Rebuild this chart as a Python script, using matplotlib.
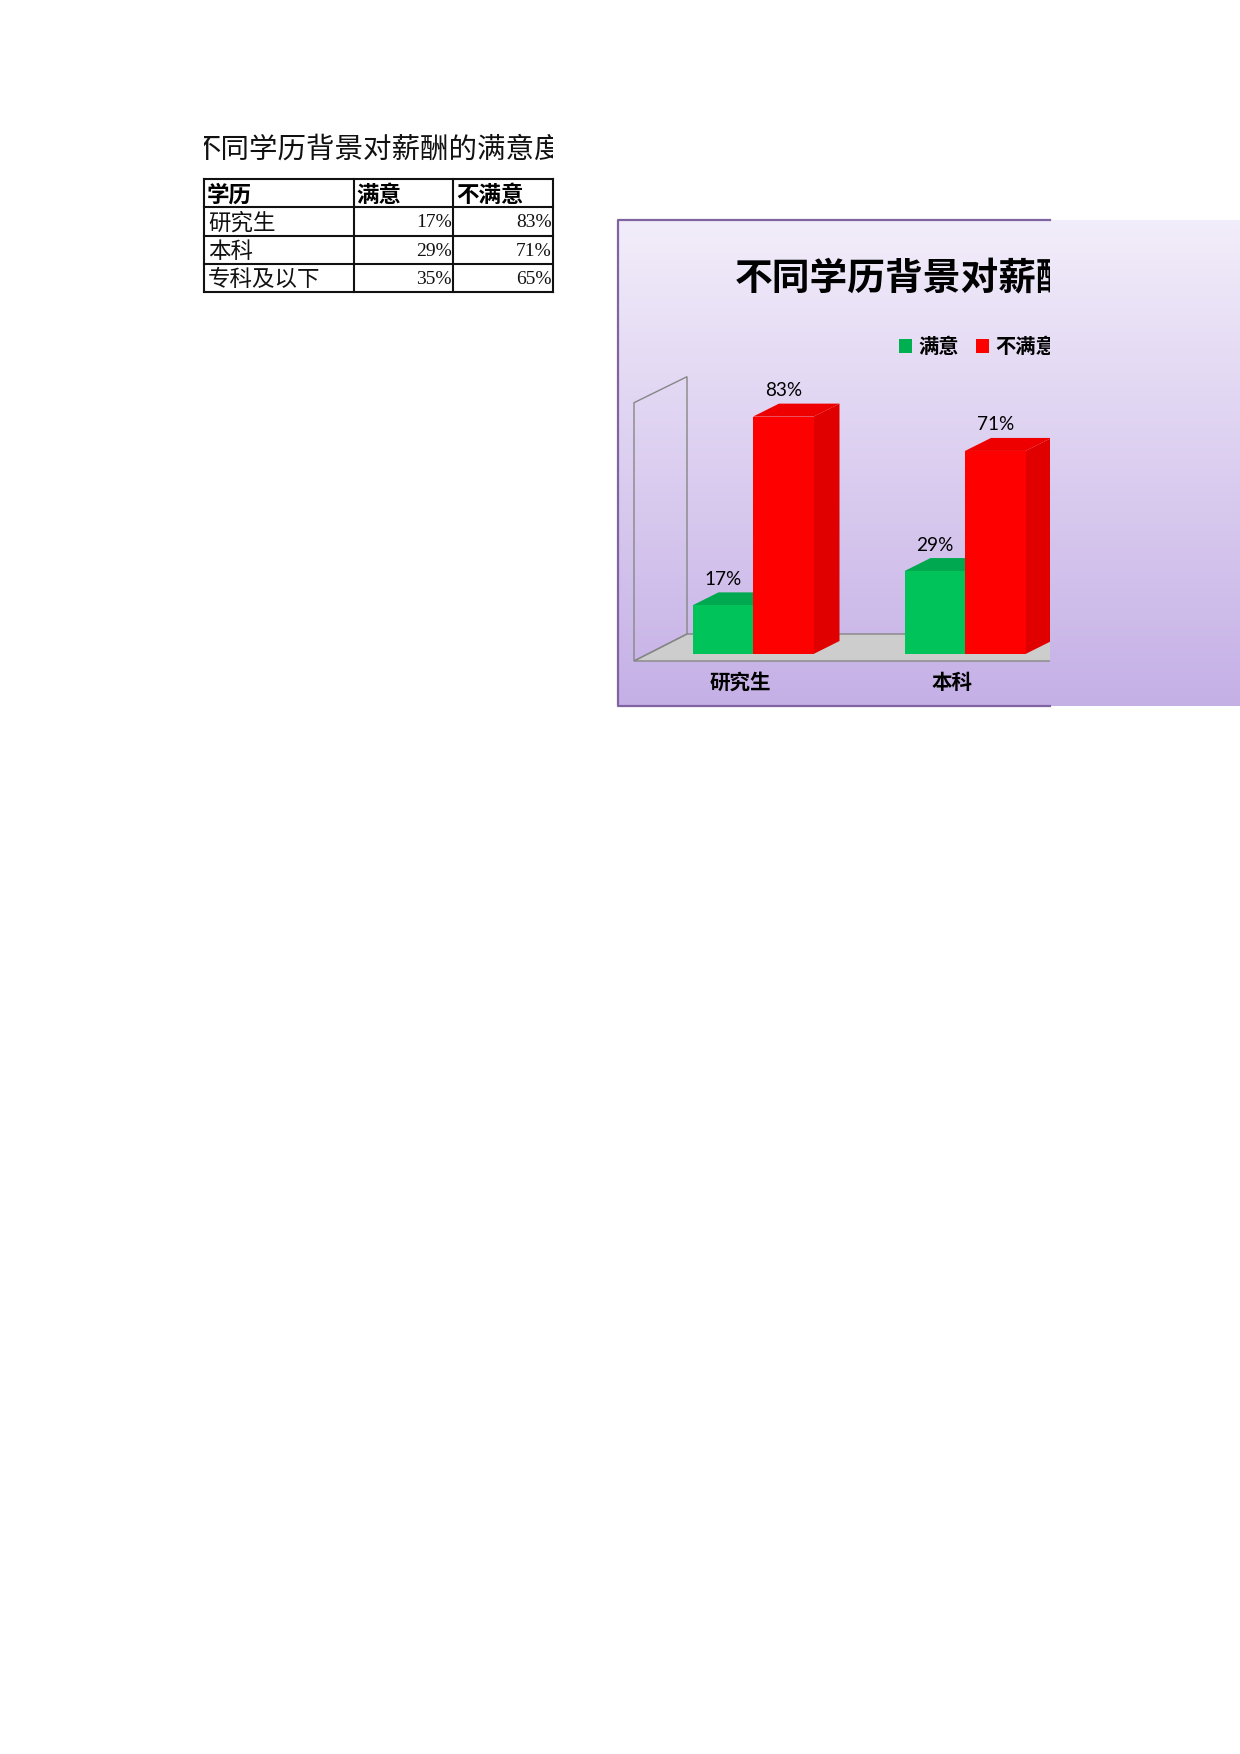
# -*- coding: utf-8 -*-
# 不同学历背景对薪酬的满意度 表格+三维柱形图
import numpy as np
import matplotlib
matplotlib.use('Agg')
import matplotlib.pyplot as plt
from matplotlib.patches import Polygon, Rectangle
from matplotlib.colors import LinearSegmentedColormap

plt.rcParams['font.family'] = ['Noto Sans CJK SC', 'DejaVu Sans']

title = '不同学历背景对薪酬的满意度'
headers = ['学历', '满意', '不满意']
categories = ['研究生', '本科', '专科及以下']
satisfied = [17, 29, 35]
unsatisfied = [83, 71, 65]

W, H = 1240, 1754
fig = plt.figure(figsize=(12.4, 17.54), dpi=100, facecolor='white')

# 整页坐标,单位像素
page = fig.add_axes([0, 0, 1, 1])
page.set_xlim(0, W)
page.set_ylim(H, 0)
page.axis('off')

# 表格
col_x = [204, 353.5, 453, 553]
row_y = [179, 207, 235.7, 264, 292]
for x in col_x:
    page.plot([x, x], [row_y[0], row_y[-1]], color='#111111', lw=1.5, solid_capstyle='projecting')
for y in row_y:
    page.plot([col_x[0], col_x[-1]], [y, y], color='#111111', lw=1.5, solid_capstyle='projecting')

t = page.text((col_x[0] + col_x[-1]) / 2, 150, title, fontsize=20.5, ha='center', va='center',
              color='#111111', clip_on=True)
t.set_clip_path(Rectangle((col_x[0], 120), col_x[-1] - col_x[0], 50, transform=page.transData))

for i, h in enumerate(headers):
    page.text(col_x[i] + 3, 195, h, fontsize=16.2, fontweight='bold', ha='left', va='center', color='black')
for i, c in enumerate(categories):
    yc = (row_y[i + 1] + row_y[i + 2]) / 2 + 1.5
    page.text(col_x[0] + 4, yc, c, fontsize=16.2, ha='left', va='center', color='#111111')
    page.text(col_x[2] - 1.5, yc, '%d%%' % satisfied[i], fontsize=14, family='Liberation Serif',
              ha='right', va='center', color='#111111')
    page.text(col_x[3] - 1.5, yc, '%d%%' % unsatisfied[i], fontsize=14, family='Liberation Serif',
              ha='right', va='center', color='#111111')

# 图表背景,渐变一直到页面右边
cl, cr, ct, cb = 618, 1050, 220, 706
cmap = LinearSegmentedColormap.from_list('bg', ['#F2EDFA', '#C5B0E6'])
page.imshow(np.linspace(0, 1, 256).reshape(-1, 1), cmap=cmap, aspect='auto', extent=(cl, W, cb, ct), zorder=0)
page.set_xlim(0, W)
page.set_ylim(H, 0)
page.plot([cr, cl, cl, cr], [ct, ct, cb, cb], color='#8064A2', lw=1.6, zorder=1)

# 柱形图坐标,x为类别序号,y为百分数
px_per_pct = 2.86
px_per_cat = 212
base_y = 654
x0 = 753
ax = fig.add_axes([cl / W, 1 - cb / H, (cr - cl) / W, (cb - ct) / H])
ax.patch.set_alpha(0)
ax.axis('off')
ax.set_xlim((cl - x0) / px_per_cat, (cr - x0) / px_per_cat)
ax.set_ylim((base_y - cb) / px_per_pct, (base_y - ct) / px_per_pct)


def px2x(x):
    return (x - x0) / px_per_cat


def px2y(y):
    return (base_y - y) / px_per_pct


# 地板和侧墙
fx, bx, fy, by = 634, 687, 661, 634
wall_f, wall_b = 402.7, 376.7
floor = [(px2x(fx), px2y(fy)), (px2x(bx), px2y(by)), (px2x(W + 200), px2y(by)), (px2x(W + 200), px2y(fy))]
ax.add_patch(Polygon(floor, closed=True, fc='#CDCDCD', ec='#868686', lw=1, zorder=1))
wall = [(px2x(fx), px2y(fy)), (px2x(fx), px2y(wall_f)), (px2x(bx), px2y(wall_b)), (px2x(bx), px2y(by))]
ax.add_patch(Polygon(wall, closed=True, fc='none', ec='#868686', lw=1, zorder=1))

bar_w = 60.5 / px_per_cat
dx = 26 / px_per_cat
dy = 13 / px_per_pct


def bar3d(left, v, front, top, side, z):
    r = left + bar_w
    ax.add_patch(Polygon([(r, 0), (r + dx, dy), (r + dx, v + dy), (r, v)], closed=True, fc=side, ec='none', zorder=z))
    ax.add_patch(Polygon([(left, v), (left + dx, v + dy), (r + dx, v + dy), (r, v)], closed=True, fc=top, ec='none', zorder=z))
    ax.bar(left, v, width=bar_w, align='edge', color=front, zorder=z)


for i in range(len(categories)):
    bar3d(i - bar_w, satisfied[i], '#00C45A', '#00A84F', '#00A84F', 2 + i)
    bar3d(i, unsatisfied[i], '#FF0000', '#EE0000', '#E00000', 2.5 + i)
    ax.text(i - bar_w / 2, satisfied[i] + 9, '%d%%' % satisfied[i], fontsize=13.7, family='Lato',
            ha='center', va='center', color='black', zorder=10, clip_on=True)
    ax.text(i + bar_w / 2, unsatisfied[i] + 9.2, '%d%%' % unsatisfied[i], fontsize=13.7, family='Lato',
            ha='center', va='center', color='black', zorder=10, clip_on=True)
    ax.text(i - 13 / px_per_cat, px2y(682.5), categories[i], fontsize=14.8, fontweight='bold',
            ha='center', va='center', color='black', zorder=10, clip_on=True)

# 标题和图例,超出部分被裁掉
ax.text(px2x(735), px2y(279), title, fontsize=27.2, fontweight='bold', ha='left', va='center',
        color='black', zorder=10, clip_on=True)
ax.add_patch(Rectangle((px2x(899), px2y(353)), 13 / px_per_cat, 14 / px_per_pct, fc='#00B050', ec='none', zorder=10))
ax.add_patch(Rectangle((px2x(976), px2y(353)), 13 / px_per_cat, 14 / px_per_pct, fc='#FF0000', ec='none', zorder=10))
ax.text(px2x(918), px2y(346.5), headers[1], fontsize=14.6, fontweight='bold', ha='left', va='center',
        color='black', zorder=10, clip_on=True)
ax.text(px2x(995), px2y(346.5), headers[2], fontsize=14.6, fontweight='bold', ha='left', va='center',
        color='black', zorder=10, clip_on=True)

fig.savefig('out.png', dpi=100)
